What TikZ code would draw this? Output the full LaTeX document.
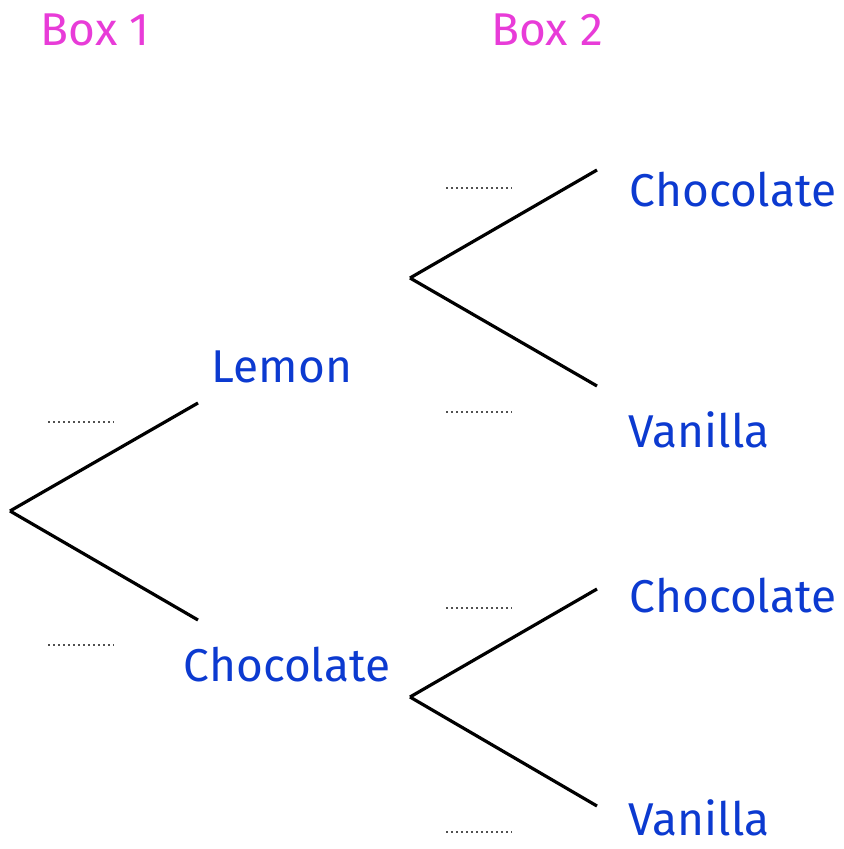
\documentclass[tikz,border=0pt]{standalone}
\usepackage{fontspec}
\setmainfont{Fira Sans}
\usepackage{tikz}
\usetikzlibrary{calc}
\definecolor{pink}{RGB}{232, 60, 216}
\definecolor{blue}{RGB}{12, 58, 208}
\definecolor{dots}{RGB}{80, 80, 80}
\tikzset{
  outcome/.style={text=blue, font=\fontsize{23}{28}\selectfont, inner sep=0pt},
  heading/.style={text=pink, font=\fontsize{23}{28}\selectfont, inner sep=0pt},
  blank/.style={dots, line width=1pt, dash pattern=on 1pt off 1.5pt}
}

\begin{document}
\begin{tikzpicture}[x=0.5pt, y=-0.5pt, line width=1.6pt]

  \useasboundingbox (0, 0) rectangle (843, 849);

  % headings
  \node[heading] (box1) at (95, 30) {Box 1};
  \node[heading] (box2) at (547, 30) {Box 2};

  % first draw
  \coordinate (root) at (10, 511);
  \coordinate (lemonEnd) at (198, 403);
  \coordinate (chocEnd) at (198, 620);
  \node[outcome] (lemon) at (282, 367) {Lemon};
  \node[outcome] (choc) at (287, 665) {Chocolate};
  \draw (root) -- (lemonEnd);
  \draw (root) -- (chocEnd);

  % second draw after lemon
  \coordinate (upper) at (410, 278);
  \coordinate (upperC) at (597, 170);
  \coordinate (upperV) at (597, 386);
  \node[outcome] (lemonChoc) at (733, 190) {Chocolate};
  \node[outcome] (lemonVan) at (699, 430) {Vanilla};
  \draw (upper) -- (upperC);
  \draw (upper) -- (upperV);

  % second draw after chocolate
  \coordinate (lower) at (410, 697);
  \coordinate (lowerC) at (597, 589);
  \coordinate (lowerV) at (597, 806);
  \node[outcome] (chocChoc) at (733, 596) {Chocolate};
  \node[outcome] (chocVan) at (699, 818) {Vanilla};
  \draw (lower) -- (lowerC);
  \draw (lower) -- (lowerV);

  % blanks for probabilities
  \foreach \x/\y in {48/422, 48/645, 446/188, 446/412, 446/608, 446/832} {
    \draw[blank] (\x, \y) -- ++(66, 0);
  }

\end{tikzpicture}
\end{document}
